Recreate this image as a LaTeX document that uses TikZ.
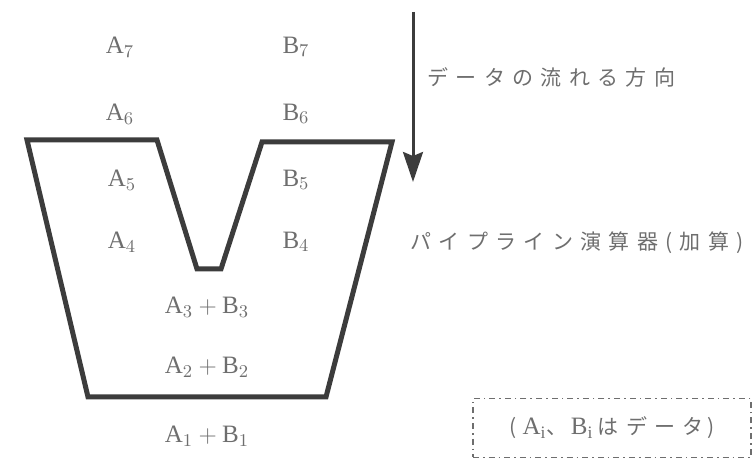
\documentclass[tikz,border=0pt]{standalone}
\usepackage{fontspec}
\setmainfont{Liberation Serif}
\newfontfamily\jpfont{Noto Sans CJK JP}
\usetikzlibrary{arrows.meta}
\definecolor{ink}{HTML}{3C3C3C}
\definecolor{txt}{HTML}{6E6E6E}

\begin{document}
\begin{tikzpicture}[x=0.5pt, y=-0.5pt, >={Stealth[length=15pt, width=10pt, inset=2pt]},
    lbl/.style={text=txt, inner sep=0pt, font=\fontsize{12.5}{14}\selectfont},
    jp/.style={text=txt, inner sep=0pt, anchor=west,
               font=\jpfont\fontsize{10.5}{12}\selectfont\addfontfeature{LetterSpace=35}},
    pipe/.style={draw=ink, line width=2.5pt, line join=miter},
    flow/.style={draw=ink, line width=1.5pt},
    legend/.style={draw=txt, line width=0.8pt, dash dot, minimum width=139pt,
                   minimum height=29.5pt, text=txt, inner sep=0pt}]
    \useasboundingbox (0,0) rectangle (752,460);

    % data waiting above the unit
    \node[lbl] (a7) at (120,47)  {$\mathrm{A}_7$};
    \node[lbl] (b7) at (296,47)  {$\mathrm{B}_7$};
    \node[lbl] (a6) at (120,114) {$\mathrm{A}_6$};
    \node[lbl] (b6) at (296,114) {$\mathrm{B}_6$};

    % pipeline unit
    \draw[pipe] (27,140) -- (157,140) -- (197,269) -- (221,269) -- (262,142)
        -- (392,142) -- (326,397) -- (88,397) -- cycle;

    \node[lbl] (a5) at (122,180) {$\mathrm{A}_5$};
    \node[lbl] (b5) at (296,180) {$\mathrm{B}_5$};
    \node[lbl] (a4) at (122,242) {$\mathrm{A}_4$};
    \node[lbl] (b4) at (296,242) {$\mathrm{B}_4$};
    \node[lbl] (s3) at (207,307) {$\mathrm{A}_3+\mathrm{B}_3$};
    \node[lbl] (s2) at (207,367) {$\mathrm{A}_2+\mathrm{B}_2$};
    \node[lbl] (s1) at (207,436) {$\mathrm{A}_1+\mathrm{B}_1$};

    % direction of flow
    \coordinate (top) at (413,12);
    \coordinate (bot) at (413,182);
    \draw[flow, ->] (top) -- (bot);
    \node[jp] (flowlbl) at (427,77)  {データの流れる方向};
    \node[jp] (unitlbl) at (410,243) {パイプライン演算器(加算)};

    \node[legend] (note) at (612,428)
        {\fontsize{12.5}{14}\selectfont
         {\jpfont\fontsize{10.5}{12}\selectfont (\;}$\mathrm{A_i}$%
         {\jpfont\fontsize{10.5}{12}\selectfont 、\,}$\mathrm{B_i}$\,%
         {\jpfont\fontsize{10.5}{12}\selectfont\addfontfeature{LetterSpace=35}はデータ\,)}};
\end{tikzpicture}
\end{document}
